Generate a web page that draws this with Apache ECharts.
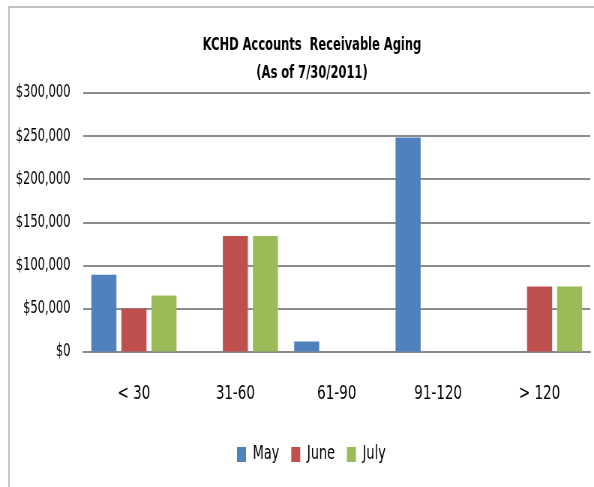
<!DOCTYPE html>
<html>
<head>
<meta charset="utf-8">
<script src="https://cdn.jsdelivr.net/npm/echarts@6/dist/echarts.min.js"></script>
<style>
html,body{margin:0;padding:0;background:#fff;overflow:hidden;}
#wrap{width:594px;height:487px;overflow:hidden;}
#chart{width:792px;height:487px;transform:scaleX(0.75);transform-origin:0 0;}
</style>
</head>
<body>
<div id="wrap"><div id="chart"></div></div>
<script>
const categories = ['< 30', '31-60', '61-90', '91-120', '> 120'];
const seriesNames = ['May', 'June', 'July'];
const mayValues = [89000, null, 11500, 248500, null];
const juneValues = [50000, 134000, null, null, 75500];
const julyValues = [65000, 134000, null, null, 75500];
const colors = ['#4F81BD', '#C0504D', '#9BBB59'];
const titleLines = ['KCHD Accounts  Receivable Aging', '(As of 7/30/2011)'];

const FONT = '"DejaVu Sans Condensed", "DejaVu Sans", sans-serif';
const chart = echarts.init(document.getElementById('chart'));
const dataSets = [mayValues, juneValues, julyValues];

chart.setOption({
  animation: false,
  backgroundColor: '#fff',
  color: colors,
  title: {
    text: titleLines.join('\n'),
    left: 411,
    textAlign: 'center',
    top: 27,
    textStyle: { fontFamily: FONT, fontSize: 17, fontWeight: 'bold', color: '#000', lineHeight: 28 }
  },
  graphic: [{
    type: 'rect',
    shape: { x: 12, y: 7, width: 900, height: 600 },
    style: { fill: 'none', stroke: '#aaaaaa', lineWidth: 1.5 },
    silent: true
  }],
  legend: {
    data: seriesNames,
    top: 440,
    left: 311,
    itemWidth: 12,
    itemHeight: 15,
    itemGap: 16,
    icon: 'rect',
    textStyle: { fontFamily: FONT, fontSize: 19, color: '#000', padding: [0, 0, 0, 4] }
  },
  grid: { left: 111, right: 5, top: 93, height: 258.5 },
  xAxis: {
    type: 'category',
    data: categories,
    axisTick: { show: false },
    axisLine: { lineStyle: { color: '#888', width: 2 } },
    axisLabel: { fontFamily: FONT, fontSize: 20, color: '#000', margin: 32 }
  },
  yAxis: {
    type: 'value',
    min: 0, max: 300000, interval: 50000,
    axisLine: { show: false },
    axisTick: { show: false },
    splitLine: { lineStyle: { color: '#8c8c8c', width: 2 } },
    axisLabel: {
      fontFamily: FONT, fontSize: 17, color: '#000', margin: 17,
      formatter: v => '$' + v.toLocaleString('en-US')
    }
  },
  series: seriesNames.map((n, i) => ({
    name: n,
    type: 'bar',
    data: dataSets[i],
    barGap: '20%',
    barCategoryGap: '16%',
    itemStyle: { color: colors[i] }
  }))
});
</script>
</body>
</html>
